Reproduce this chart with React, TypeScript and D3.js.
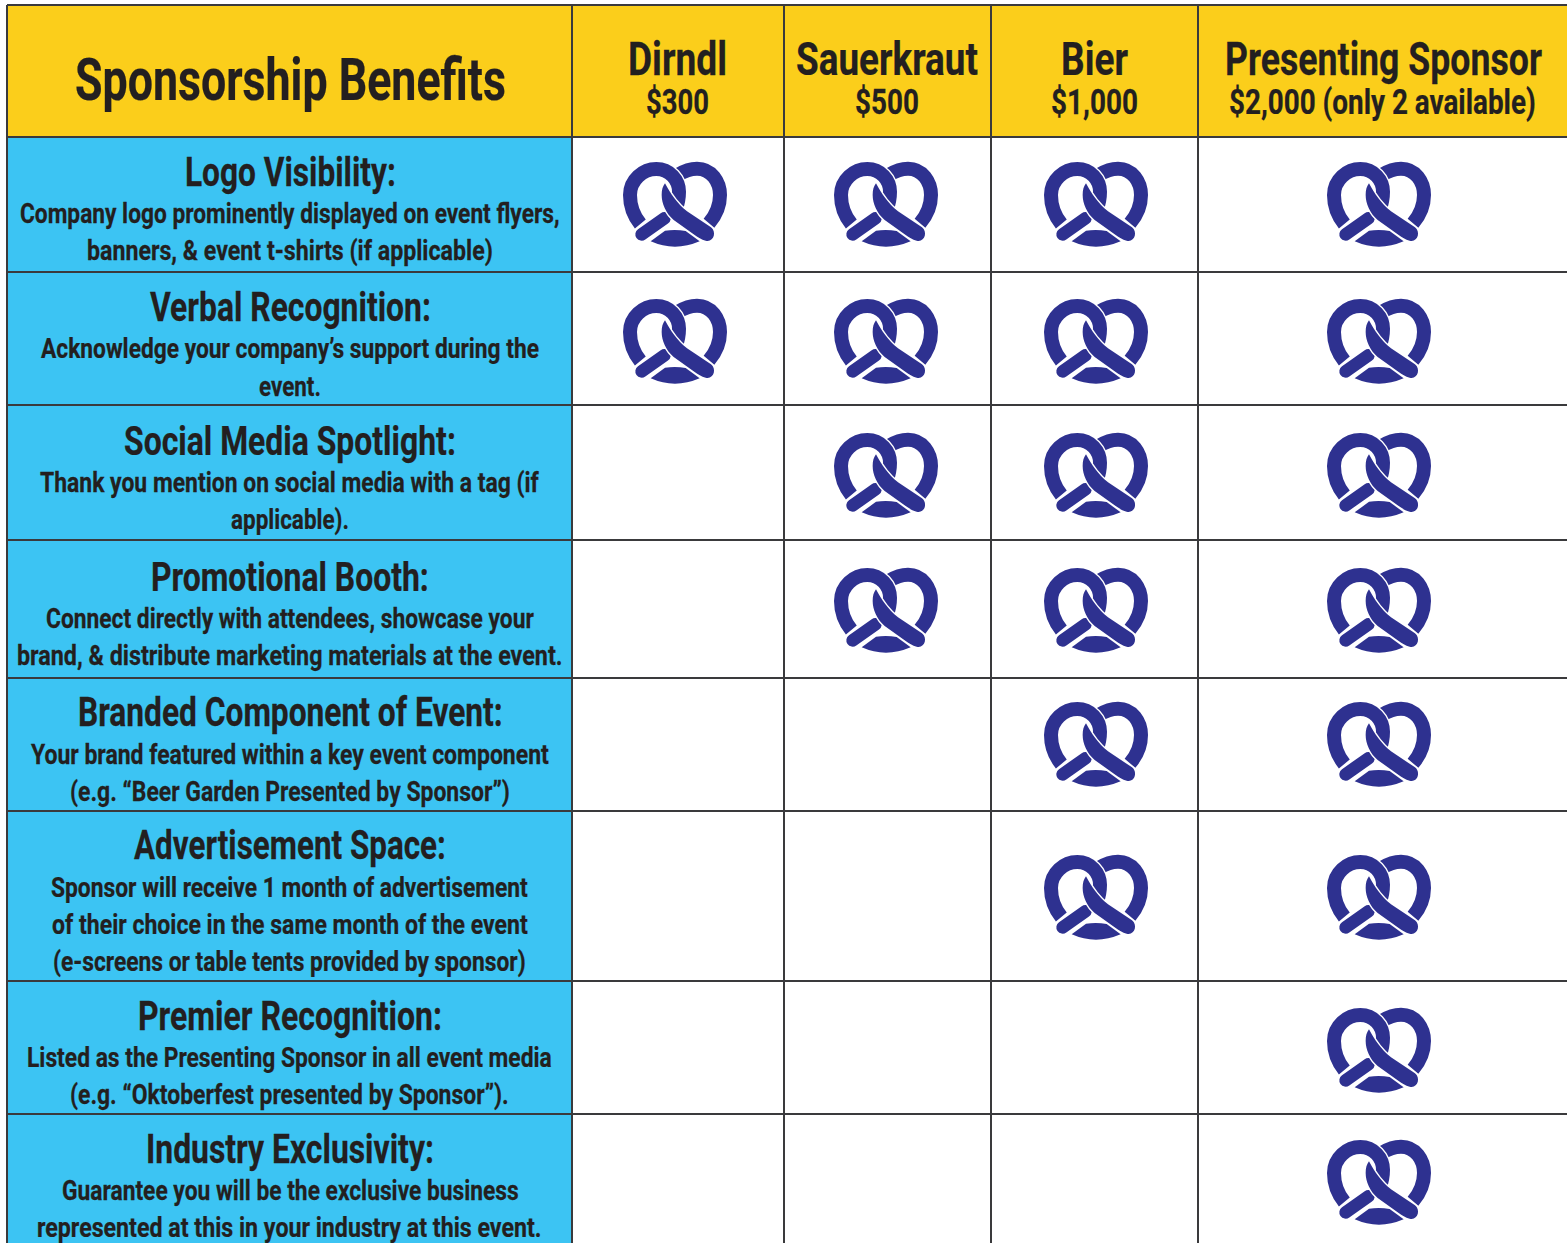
import React, { useEffect, useRef } from 'react';
import * as d3 from 'd3';

const tiers = ['Dirndl', 'Sauerkraut', 'Bier', 'Presenting Sponsor'];
const prices = ['$300', '$500', '$1,000', '$2,000 (only 2 available)'];
const benefits = [
  'Logo Visibility:',
  'Verbal Recognition:',
  'Social Media Spotlight:',
  'Promotional Booth:',
  'Branded Component of Event:',
  'Advertisement Space:',
  'Premier Recognition:',
  'Industry Exclusivity:',
];
const details = [
  ['Company logo prominently displayed on event flyers,', 'banners, & event t-shirts (if applicable)'],
  ['Acknowledge your company’s support during the', 'event.'],
  ['Thank you mention on social media with a tag (if', 'applicable).'],
  ['Connect directly with attendees, showcase your', 'brand, & distribute marketing materials at the event.'],
  ['Your brand featured within a key event component', '(e.g. “Beer Garden Presented by Sponsor”)'],
  ['Sponsor will receive 1 month of advertisement', 'of their choice in the same month of the event', '(e-screens or table tents provided by sponsor)'],
  ['Listed as the Presenting Sponsor in all event media', '(e.g. “Oktoberfest presented by Sponsor”).'],
  ['Guarantee you will be the exclusive business', 'represented at this in your industry at this event.'],
];
// 1 = tier includes the benefit
const dirndl = [1, 1, 0, 0, 0, 0, 0, 0];
const sauerkraut = [1, 1, 1, 1, 0, 0, 0, 0];
const bier = [1, 1, 1, 1, 1, 1, 0, 0];
const presenting = [1, 1, 1, 1, 1, 1, 1, 1];
const included = [dirndl, sauerkraut, bier, presenting];

// layout
const colEdges = [7, 572, 784, 991, 1198, 1567];
const rowEdges = [137, 272, 405, 540, 678, 811, 981, 1114, 1243];
const headerTop = 5;
const markX = [675, 886, 1096, 1379];
const markY = [204, 341, 475, 610, 744, 897, 1050, 1182];
const tierSpan = [[628, 727], [796, 978], [1061, 1128], [1225, 1542]];
const priceSpan = [[646, 709], [855, 919], [1051, 1138], [1229, 1536]];
const titleSpan = [[185, 396], [150, 431], [124, 456], [151, 429], [78, 503], [134, 446], [138, 442], [146, 434]];
const titleBase = [186, 321, 455, 591, 726, 859, 1030, 1163];
const detailSpan = [
  [[20, 560], [87, 493]],
  [[41, 539], [259, 321]],
  [[40, 539], [231, 349]],
  [[46, 534], [17, 563]],
  [[31, 549], [70, 510]],
  [[51, 528], [52, 528], [53, 526]],
  [[27, 552], [70, 509]],
  [[62, 519], [37, 542]],
];
const detailBase = [
  [223, 260], [358, 396], [492, 529], [628, 665], [764, 801], [897, 934, 971], [1067, 1104], [1200, 1237],
];

const INK = '#231f20';
const YELLOW = '#fbce1b';
const BLUE = '#3cc4f3';
const NAVY = '#2e3190';
const LINE = '#3a3a3c';
const FONT = 'Roboto, sans-serif';

// squeeze each line to the width it has in the picture
function addText(g: any, str: string, span: number[], base: number, size: number) {
  const t = g.append('text')
    .style('font', `bold ${size}px ${FONT}`)
    .style('fill', INK)
    .style('stroke', INK)
    .style('stroke-width', 0.25)
    .text(str);
  const natural = t.node().getComputedTextLength();
  t.attr('transform', `translate(${span[0]},${base}) scale(${(span[1] - span[0]) / natural},1)`);
}

// pretzel drawn round its centre, traced at 3x then scaled down
function addPretzel(g: any, cx: number, cy: number) {
  const p = g.append('g').attr('transform', `translate(${cx},${cy}) scale(${1 / 3}) translate(-226,-192)`);
  const stroked = (d: string, w: number, color: string, cap = 'butt') =>
    p.append('path').attr('d', d).attr('fill', 'none').attr('stroke', color).attr('stroke-width', w).attr('stroke-linecap', cap);

  const right = 'M236 104C258 90 276 86 292 86C335 86 361 125 361 165C361 200 345 230 328 250';
  const left = 'M122 252C100 225 91 195 91 165C91 120 130 87 170 87C210 87 238 120 238 155C238 175 235 190 228 208';
  const stick = 'M126 283L194 235';
  const cross = 'M196 130C212 160 232 190 262 214L334 262C352 276 342 308 318 302C305 299 295 292 285 285L222 240C198 220 186 190 186 165C186 150 189 139 196 130Z';
  const bottom = 'M153 304Q225 336 300 304L258 273Q228 267 196 272Z';

  stroked(right, 42, NAVY);
  stroked(left, 50, '#fff');
  stroked(left, 42, NAVY);
  p.append('path').attr('d', bottom).attr('fill', NAVY);
  stroked(stick, 46, '#fff');
  stroked(stick, 38, NAVY, 'round');
  p.append('path').attr('d', cross).attr('fill', NAVY).attr('stroke', '#fff').attr('stroke-width', 8).attr('paint-order', 'stroke');
}

export default function App() {
  const ref = useRef<SVGSVGElement>(null);

  useEffect(() => {
    const svg = d3.select(ref.current);
    svg.selectAll('*').remove();

    const fills = svg.append('g');
    fills.append('rect').attr('x', colEdges[0]).attr('y', headerTop)
      .attr('width', colEdges[5] - colEdges[0]).attr('height', rowEdges[0] - headerTop).attr('fill', YELLOW);
    fills.append('rect').attr('x', colEdges[0]).attr('y', rowEdges[0])
      .attr('width', colEdges[1] - colEdges[0]).attr('height', rowEdges[8] - rowEdges[0]).attr('fill', BLUE);

    const marks = svg.append('g');
    included.forEach((col, c) => {
      col.forEach((on, r) => {
        if (on) addPretzel(marks, markX[c], markY[r]);
      });
    });

    const grid = svg.append('g').attr('stroke', LINE).attr('stroke-width', 2);
    [headerTop, ...rowEdges.slice(0, 8)].forEach((y) => {
      grid.append('line').attr('x1', colEdges[0]).attr('x2', colEdges[5]).attr('y1', y).attr('y2', y);
    });
    colEdges.slice(0, 5).forEach((x) => {
      grid.append('line').attr('x1', x).attr('x2', x).attr('y1', headerTop).attr('y2', rowEdges[8]);
    });

    const text = svg.append('g');
    addText(text, 'Sponsorship Benefits', [75, 506], 100, 60);
    tiers.forEach((t, i) => {
      addText(text, t, tierSpan[i], 75, 47);
      addText(text, prices[i], priceSpan[i], 114, 35);
    });
    benefits.forEach((b, i) => {
      addText(text, b, titleSpan[i], titleBase[i], 40);
      details[i].forEach((line, j) => {
        addText(text, line, detailSpan[i][j], detailBase[i][j], 27);
      });
    });
  }, []);

  return (
    <svg
      ref={ref}
      width={1567}
      height={1243}
      style={{ position: 'absolute', left: 0, top: 0, background: '#fff' }}
    />
  );
}
